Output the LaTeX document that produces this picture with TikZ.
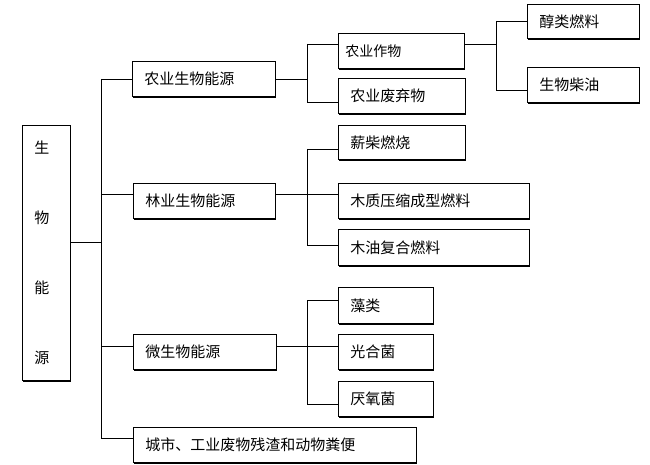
\documentclass[tikz,border=0pt]{standalone}
\usepackage{fontspec}
\setmainfont{Noto Sans CJK SC}
\usetikzlibrary{shadows}
\begin{document}
\begin{tikzpicture}[x=1pt,y=-1pt,
  box/.style={draw, line width=0.8pt, fill=white, anchor=north west, inner xsep=12pt, inner ysep=0pt,
    align=left, font=\fontsize{15}{17}\selectfont,
    drop shadow={shadow xshift=1pt, shadow yshift=-1.2pt, fill=black, opacity=1}},
  conn/.style={line width=0.8pt}]
\useasboundingbox (0,0) rectangle (650,465);
% root
\node[box, text width=24pt, minimum height=255pt, font=\fontsize{15}{70}\selectfont] (root) at (22,125) {生\\物\\能\\源};
% level 1
\node[box, text width=119pt, minimum height=35pt] (A) at (132,61) {农业生物能源};
\node[box, text width=118pt, minimum height=35pt] (B) at (133,183) {林业生物能源};
\node[box, text width=119pt, minimum height=35pt] (C) at (133,334) {微生物能源};
\node[box, text width=259pt, minimum height=35pt] (D) at (133,427) {城市、工业废物残渣和动物粪便};
% level 2
\node[box, text width=112pt, inner xsep=7pt, minimum height=35pt, font=\fontsize{14}{16}\selectfont] (A1) at (338,33) {农业作物};
\node[box, text width=103pt, minimum height=35pt] (A2) at (338,78) {农业废弃物};
\node[box, text width=88pt, minimum height=34pt] (A11) at (527,4) {醇类燃料};
\node[box, text width=88pt, minimum height=35pt] (A12) at (527,67) {生物柴油};
\node[box, text width=103pt, minimum height=34pt] (B1) at (338,125) {薪柴燃烧};
\node[box, text width=167pt, minimum height=35pt] (B2) at (338,183) {木质压缩成型燃料};
\node[box, text width=167pt, minimum height=36pt] (B3) at (338,229) {木油复合燃料};
\node[box, text width=71pt, minimum height=36pt] (C1) at (338,287) {藻类};
\node[box, text width=71pt, minimum height=35pt] (C2) at (338,334) {光合菌};
\node[box, text width=71pt, minimum height=35pt] (C3) at (338,381) {厌氧菌};
% bus coordinates
\coordinate (r0) at (101,242);
\coordinate (a0) at (101,79);
\coordinate (b0) at (101,194);
\coordinate (c0) at (101,346);
\coordinate (d0) at (101,438);
\coordinate (a1) at (307,79);
\coordinate (a1t) at (307,44);
\coordinate (a1b) at (307,102);
\coordinate (a2) at (496,44);
\coordinate (a2t) at (496,21);
\coordinate (a2b) at (496,90);
\coordinate (b1) at (307,194);
\coordinate (b1t) at (307,149);
\coordinate (b1b) at (307,245);
\coordinate (c1) at (307,346);
\coordinate (c1t) at (307,300);
\coordinate (c1b) at (307,404);
% main bus
\draw[conn] (a0) -- (d0);
\draw[conn] (root.east |- r0) -- (r0);
\draw[conn] (a0) -- (A.west |- a0);
\draw[conn] (b0) -- (B.west |- b0);
\draw[conn] (c0) -- (C.west |- c0);
\draw[conn] (d0) -- (D.west |- d0);
% agriculture
\draw[conn] (A.east |- a1) -- (a1);
\draw[conn] (a1t) -- (a1b);
\draw[conn] (a1t) -- (A1.west |- a1t);
\draw[conn] (a1b) -- (A2.west |- a1b);
\draw[conn] (A1.east |- a2) -- (a2);
\draw[conn] (a2t) -- (a2b);
\draw[conn] (a2t) -- (A11.west |- a2t);
\draw[conn] (a2b) -- (A12.west |- a2b);
% forestry
\draw[conn] (B.east |- b1) -- (b1);
\draw[conn] (b1t) -- (b1b);
\draw[conn] (b1t) -- (B1.west |- b1t);
\draw[conn] (b1) -- (B2.west |- b1);
\draw[conn] (b1b) -- (B3.west |- b1b);
% micro
\draw[conn] (C.east |- c1) -- (c1);
\draw[conn] (c1t) -- (c1b);
\draw[conn] (c1t) -- (C1.west |- c1t);
\draw[conn] (c1) -- (C2.west |- c1);
\draw[conn] (c1b) -- (C3.west |- c1b);
\end{tikzpicture}
\end{document}
